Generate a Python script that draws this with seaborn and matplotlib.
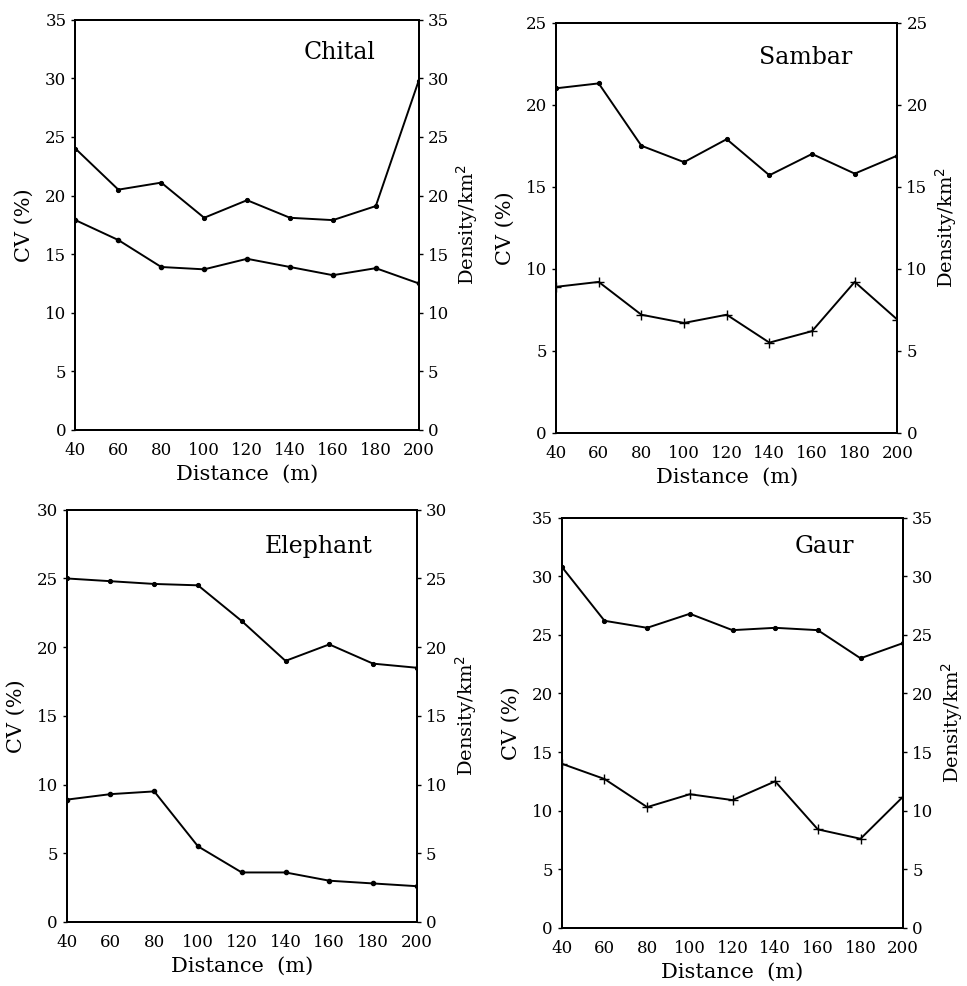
import matplotlib
matplotlib.use('Agg')
import matplotlib.pyplot as plt
import seaborn as sns
import pandas as pd

sns.set_style("ticks")
plt.rcParams['font.family'] = ['DejaVu Serif']
plt.rcParams['text.color'] = 'black'
plt.rcParams['axes.labelcolor'] = 'black'

# transect distance (m)
distance = [40, 60, 80, 100, 120, 140, 160, 180, 200]

# Chital
chital_cv = [24.0, 20.5, 21.1, 18.1, 19.6, 18.1, 17.9, 19.1, 29.8]
chital_density = [17.9, 16.2, 13.9, 13.7, 14.6, 13.9, 13.2, 13.8, 12.5]
# Sambar
sambar_cv = [21.0, 21.3, 17.5, 16.5, 17.9, 15.7, 17.0, 15.8, 16.9]
sambar_density = [8.9, 9.2, 7.2, 6.7, 7.2, 5.5, 6.2, 9.2, 6.9]
# Elephant
elephant_cv = [25.0, 24.8, 24.6, 24.5, 21.9, 19.0, 20.2, 18.8, 18.5]
elephant_density = [8.9, 9.3, 9.5, 5.5, 3.6, 3.6, 3.0, 2.8, 2.6]
# Gaur
gaur_cv = [30.8, 26.2, 25.6, 26.8, 25.4, 25.6, 25.4, 23.0, 24.3]
gaur_density = [14.0, 12.7, 10.3, 11.4, 10.9, 12.5, 8.4, 7.6, 11.2]

panels = [
    # name, cv, density, ymax, lower marker, axes rect, title pos
    ('Chital', chital_cv, chital_density, 35, '.', [0.078, 0.564, 0.355, 0.416], (0.77, 0.92)),
    ('Sambar', sambar_cv, sambar_density, 25, '+', [0.575, 0.561, 0.353, 0.416], (0.73, 0.915)),
    ('Elephant', elephant_cv, elephant_density, 30, '.', [0.069, 0.065, 0.362, 0.418], (0.72, 0.91)),
    ('Gaur', gaur_cv, gaur_density, 35, '+', [0.581, 0.059, 0.353, 0.416], (0.77, 0.93)),
]

fig = plt.figure(figsize=(9.67, 9.86), dpi=100)

for name, cv, dens, ymax, mk, rect, tpos in panels:
    df = pd.DataFrame({'distance': distance, 'cv': cv, 'density': dens})
    ax = fig.add_axes(rect)
    ax2 = ax.twinx()

    sns.lineplot(data=df, x='distance', y='cv', ax=ax, color='black',
                 linewidth=1.4, marker='.', markersize=6, markeredgecolor='black')
    sns.lineplot(data=df, x='distance', y='density', ax=ax2, color='black',
                 linewidth=1.4, marker=mk, markersize=7 if mk == '+' else 6,
                 markeredgecolor='black', markeredgewidth=1.0)

    for a in (ax, ax2):
        a.set_xlim(40, 200)
        a.set_ylim(0, ymax)
        a.set_yticks(range(0, ymax + 1, 5))
        a.tick_params(axis='both', direction='out', length=3, width=1,
                      labelsize=12, colors='black')
        for sp in a.spines.values():
            sp.set_visible(True)
            sp.set_linewidth(1.4)
            sp.set_color('black')
    ax.set_xticks(distance)
    ax.tick_params(axis='x', length=0, pad=9)

    ax.set_xlabel('Distance  (m)', fontsize=15, labelpad=4)
    ax.set_ylabel('CV (%)', fontsize=15, labelpad=8)
    ax2.set_ylabel('Density/km$^2$', fontsize=14, labelpad=4)
    ax.text(tpos[0], tpos[1], name, transform=ax.transAxes, fontsize=17,
            ha='center', va='center')

plt.savefig('out.png', dpi=100)
plt.close()
